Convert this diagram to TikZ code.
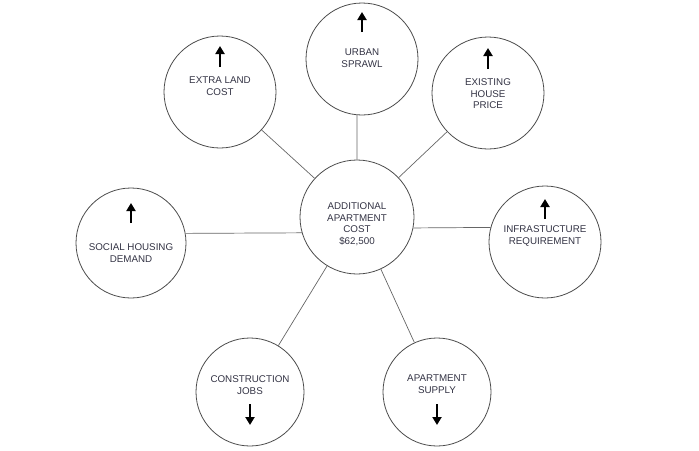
\documentclass[tikz,border=0pt]{standalone}
\usepackage{fontspec}
\setmainfont{Liberation Sans}
\usetikzlibrary{arrows.meta}
\definecolor{txt}{HTML}{333344}
\begin{document}
\begin{tikzpicture}[x=1pt,y=-1pt,
  c/.style={circle,draw=black!70,line width=0.8pt,minimum size=#1,inner sep=0pt},
  t/.style={align=center,font=\fontsize{9.8}{11.5}\selectfont,text=txt},
  ar/.style={-{Triangle[length=8pt,width=9pt]},line width=2.6pt},
  ln/.style={draw=black!60,line width=0.7pt}]
\useasboundingbox (0,0) rectangle (699,450);
\node[c=114pt] (m) at (357,217) {};
\node[c=112pt] (u) at (362,59) {};
\node[c=112pt] (e) at (220,92) {};
\node[c=112pt] (h) at (488,93) {};
\node[c=112pt] (i) at (545,242) {};
\node[c=110pt] (s) at (131,243) {};
\node[c=108pt] (j) at (250,392) {};
\node[c=108pt] (a) at (437,392) {};
\foreach \n in {e,h,j,a} \draw[ln] (m) -- (\n);
\draw[ln] (m.90) -- (u.265);
\draw[ln] (m.196) -- (s.10);
\draw[ln] (m.-11) -- (i.165);
\node[t] (mt) at (357,224) {ADDITIONAL\\APARTMENT\\COST\\\$62,500};
\node[t] (ut) at (362,58) {URBAN\\SPRAWL};
\node[t] (et) at (220,86) {EXTRA LAND\\COST};
\node[t] (ht) at (488,94) {EXISTING\\HOUSE\\PRICE};
\node[t] (it) at (545,236) {INFRASTUCTURE\\REQUIREMENT};
\node[t] (st) at (131,253) {SOCIAL HOUSING\\DEMAND};
\node[t] (jt) at (250,385) {CONSTRUCTION\\JOBS};
\node[t] (at) at (437,384) {APARTMENT\\SUPPLY};
\coordinate (u1) at (362,32); \coordinate (u2) at (362,12);
\coordinate (e1) at (220,67); \coordinate (e2) at (220,46);
\coordinate (h1) at (488,69); \coordinate (h2) at (488,48);
\coordinate (i1) at (545,219); \coordinate (i2) at (545,199);
\coordinate (s1) at (131,223); \coordinate (s2) at (131,203);
\coordinate (j1) at (250,404); \coordinate (j2) at (250,425);
\coordinate (a1) at (437,404); \coordinate (a2) at (437,425);
\foreach \n in {u,e,h,i,s,j,a} \draw[ar] (\n1) -- (\n2);
\end{tikzpicture}
\end{document}
